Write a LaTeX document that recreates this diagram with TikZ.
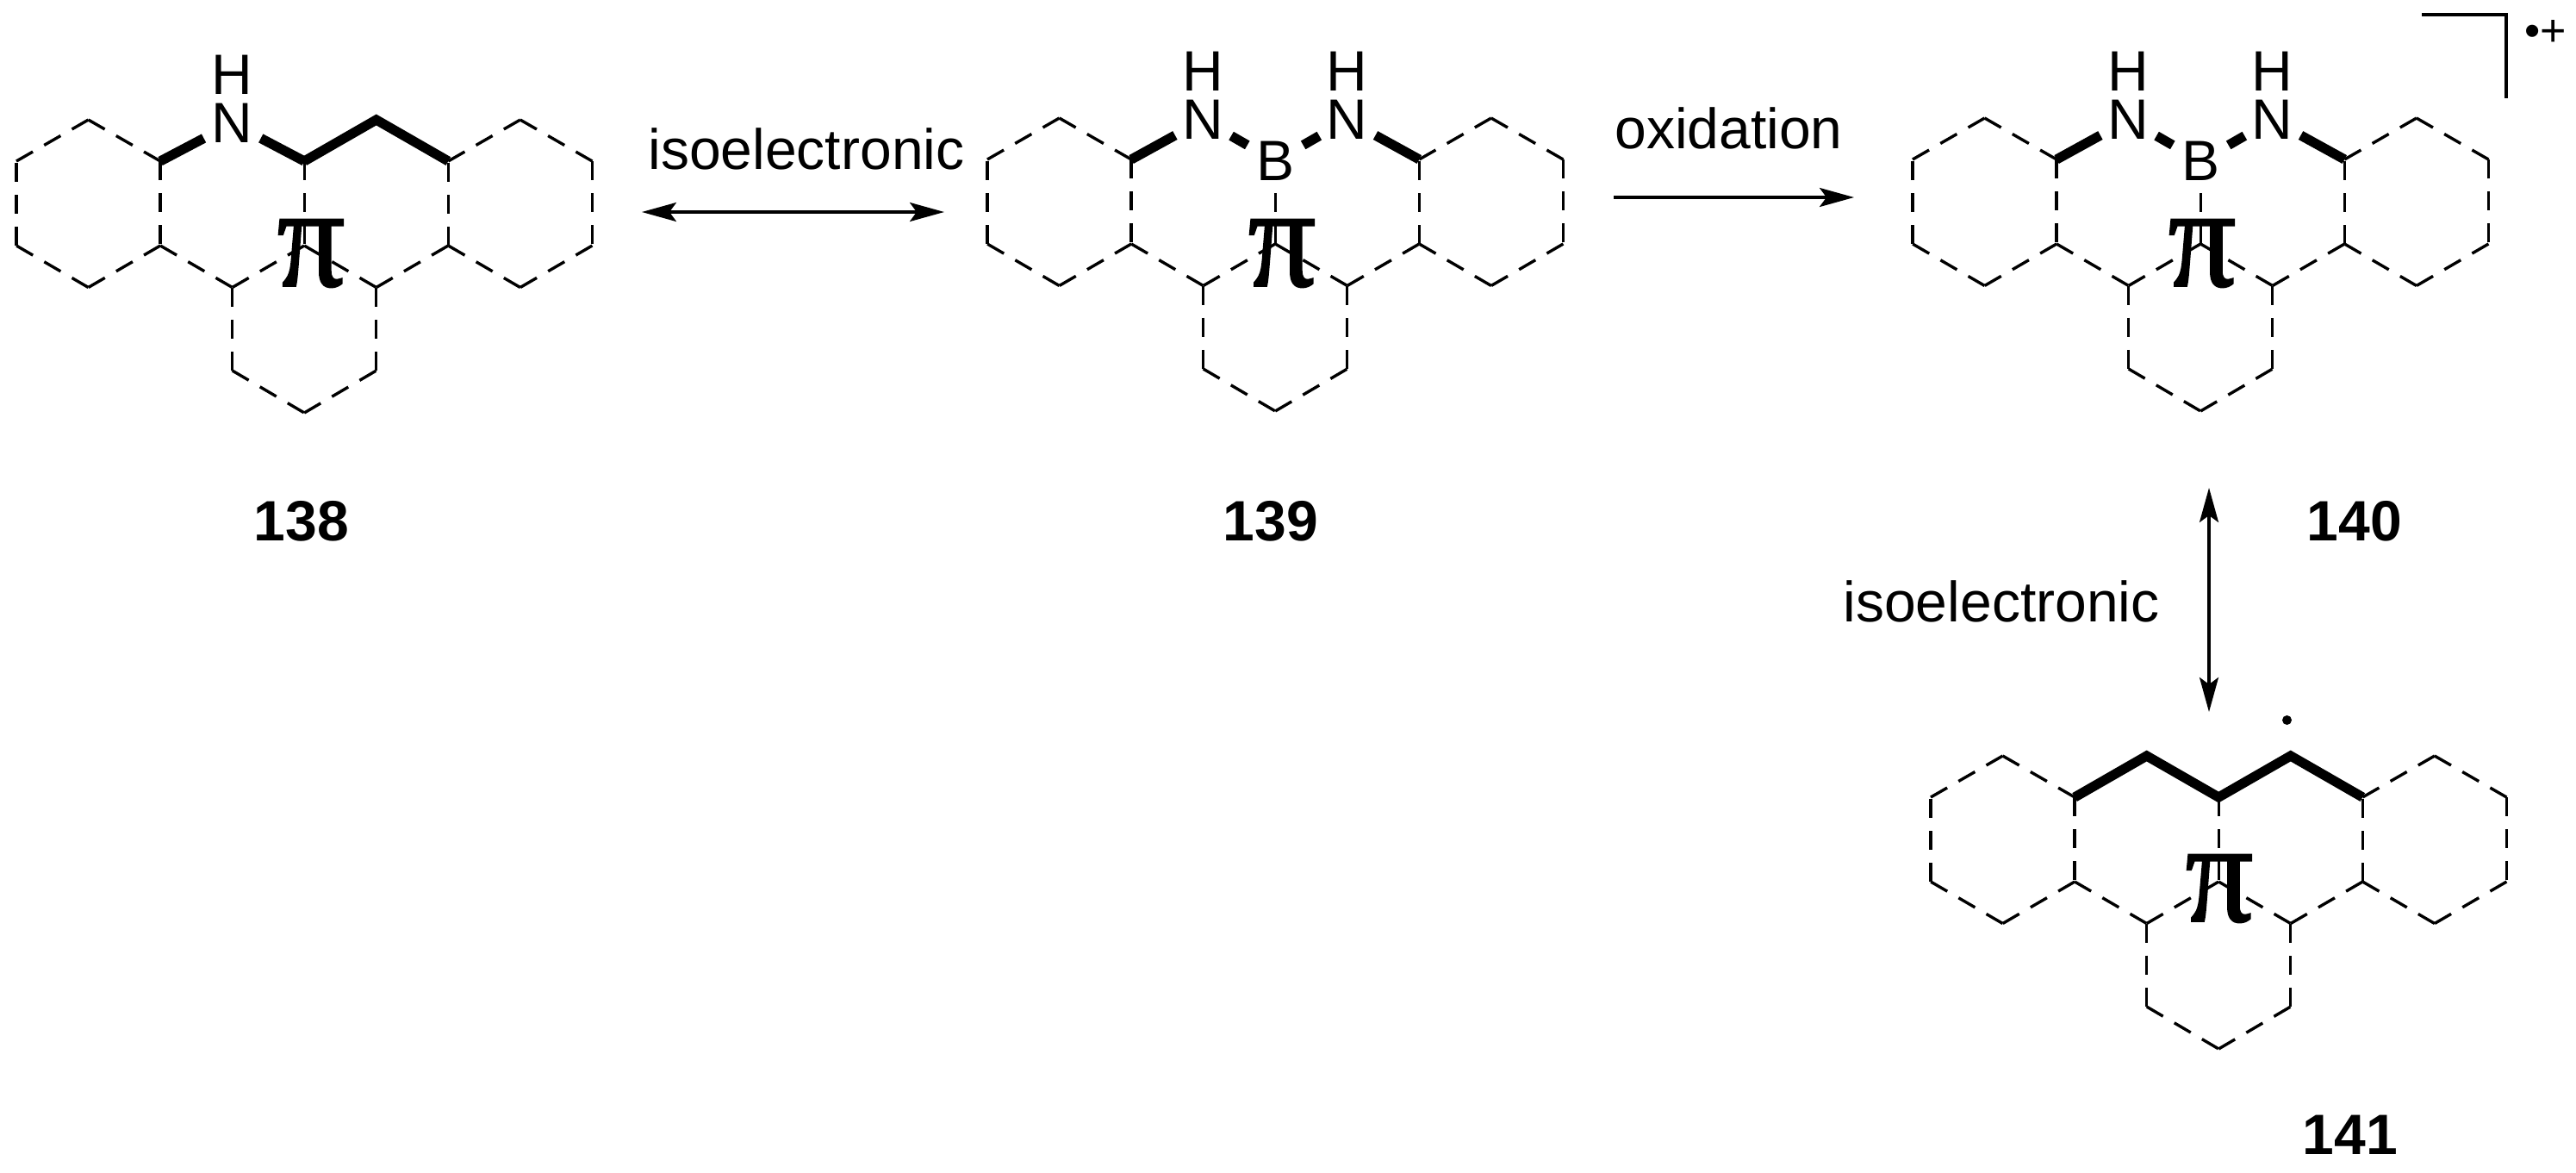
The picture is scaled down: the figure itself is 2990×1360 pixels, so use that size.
\documentclass[tikz,border=0pt]{standalone}
\usepackage{fontspec}
\setmainfont{Liberation Sans}
\newfontfamily\pifont[FakeBold=1.3]{Liberation Serif}
\usetikzlibrary{arrows.meta}
\tikzset{
  dashbond/.style={line width=1.7pt,dash pattern=on 11pt off 7.6pt},
  boldbond/.style={line width=5.6pt,line join=miter},
  atom/.style={circle,inner sep=0pt,minimum size=37pt,font=\fontsize{33}{40}\selectfont},
  hatom/.style={inner sep=0pt,font=\fontsize{33}{40}\selectfont},
  txt/.style={inner sep=0pt,anchor=base,font=\fontsize{33}{40}\selectfont},
  idlabel/.style={inner sep=0pt,anchor=base,font=\fontsize{33}{40}\selectfont\bfseries},
  pisym/.style={inner sep=0pt},
  rxn/.style={line width=1.6pt,-{Stealth[length=20pt,width=11pt,inset=4pt]}},
  rxnboth/.style={line width=1.6pt,{Stealth[length=20pt,width=11pt,inset=4pt]}-{Stealth[length=20pt,width=11pt,inset=4pt]}},
  bracket/.style={line width=1.75pt,line join=miter}
}
\newcommand{\pisign}{\scalebox{7.8}[8.4]{\pifont π}}
% vertices of the skeleton: #1 prefix, #2 left x, #3 top y
\newcommand{\vertices}[3]{%
  \foreach \c/\r/\dy in {0/b/48,1/a/0,2/b/48,2/c/146,1/d/194.5,0/c/146,
                         3/a/0,4/b/48,4/c/146,5/a/0,
                         3/d/194.5,5/d/194.5,3/e/291,4/f/340,5/e/291,
                         6/b/48,7/a/0,8/b/48,8/c/146,7/d/194.5,6/c/146}{
    \coordinate (#1-\c\r) at ({#2+\c*83.55},{#3+\dy});
  }%
}
\newcommand{\dashed}[1]{%
  \foreach \u/\v in {0b/1a,1a/2b,2b/2c,2c/1d,1d/0c,0c/0b,
                     6b/7a,7a/8b,8b/8c,8c/7d,7d/6c,6c/6b,
                     2c/3d,3d/4c,4c/5d,5d/6c,
                     3d/3e,3e/4f,4f/5e,5e/5d}{
    \draw[dashbond] (#1-\u) -- (#1-\v);
  }%
}
\begin{document}
\begin{tikzpicture}[x=0.5pt,y=-0.5pt]
\useasboundingbox (0,0) rectangle (2990,1360);

% ---------- 138
\vertices{ma}{19}{139}
\dashed{ma}
\draw[dashbond] (ma-4b) -- (ma-4c);
\node[atom] (ma-N) at ([yshift=-2pt]ma-3a) {N};
\node[hatom] (ma-H) at ([yshift=28pt]ma-N.center) {H};
\draw[boldbond] (ma-2b) -- (ma-N);
\draw[boldbond] (ma-N) -- (ma-4b);
\draw[boldbond] (ma-4b) -- (ma-5a) -- (ma-6b);
\node[pisym] (ma-pi) at (361,294) {\pisign};
\node[idlabel] (ma-id) at (350,627) {138};

% ---------- 139
\vertices{mb}{1146}{137}
\dashed{mb}
\node[atom] (mb-N1) at ([yshift=-1pt]mb-3a) {N};
\node[atom] (mb-N2) at ([yshift=-1pt]mb-5a) {N};
\node[atom] (mb-B) at ([yshift=-1pt]mb-4b) {B};
\node[hatom] (mb-H1) at ([yshift=28pt]mb-N1.center) {H};
\node[hatom] (mb-H2) at ([yshift=28pt]mb-N2.center) {H};
\draw[boldbond] (mb-2b) -- (mb-N1);
\draw[boldbond] (mb-N1) -- (mb-B);
\draw[boldbond] (mb-B) -- (mb-N2);
\draw[boldbond] (mb-N2) -- (mb-6b);
\draw[dashbond] (mb-4c) -- (mb-B);
\node[pisym] (mb-pi) at (1488,294) {\pisign};
\node[idlabel] (mb-id) at (1475,627) {139};

% ---------- 140
\vertices{mc}{2220}{137}
\dashed{mc}
\node[atom] (mc-N1) at ([yshift=-1pt]mc-3a) {N};
\node[atom] (mc-N2) at ([yshift=-1pt]mc-5a) {N};
\node[atom] (mc-B) at ([yshift=-1pt]mc-4b) {B};
\node[hatom] (mc-H1) at ([yshift=28pt]mc-N1.center) {H};
\node[hatom] (mc-H2) at ([yshift=28pt]mc-N2.center) {H};
\draw[boldbond] (mc-2b) -- (mc-N1);
\draw[boldbond] (mc-N1) -- (mc-B);
\draw[boldbond] (mc-B) -- (mc-N2);
\draw[boldbond] (mc-N2) -- (mc-6b);
\draw[dashbond] (mc-4c) -- (mc-B);
\node[pisym] (mc-pi) at (2556,294) {\pisign};
\node[idlabel] (mc-id) at (2733,627) {140};
\coordinate (br-a) at (2811,17);
\coordinate (br-b) at (2909,17);
\coordinate (br-c) at (2909,114);
\draw[bracket] (br-a) -- (br-b) -- (br-c);
\node[inner sep=0pt,anchor=base,font=\fontsize{26}{30}\selectfont] (charge) at (2955,53) {•+};

% ---------- 141
\vertices{md}{2241}{877}
\dashed{md}
\draw[dashbond] (md-4b) -- (md-4c);
\draw[boldbond] (md-2b) -- (md-3a) -- (md-4b) -- (md-5a) -- (md-6b);
\node[pisym] (md-pi) at (2576,1031) {\pisign};
\node[circle,fill=black,inner sep=0pt,minimum size=5.5pt] (md-dot) at (2654.5,835.5) {};
\node[idlabel] (md-id) at (2728,1339) {141};

% ---------- arrows and their labels
\coordinate (a1-l) at (745,246);
\coordinate (a1-r) at (1096,246);
\draw[rxnboth] (a1-l) -- (a1-r);
\node[txt] (t-iso1) at (936,196) {isoelectronic};

\coordinate (a2-l) at (1873,229);
\coordinate (a2-r) at (2152,229);
\draw[rxn] (a2-l) -- (a2-r);
\node[txt] (t-ox) at (2006.5,172.7) {oxidation};

\coordinate (a3-t) at (2564,566);
\coordinate (a3-b) at (2564,826);
\draw[rxnboth] (a3-t) -- (a3-b);
\node[txt] (t-iso2) at (2323,721.7) {isoelectronic};
\end{tikzpicture}
\end{document}
